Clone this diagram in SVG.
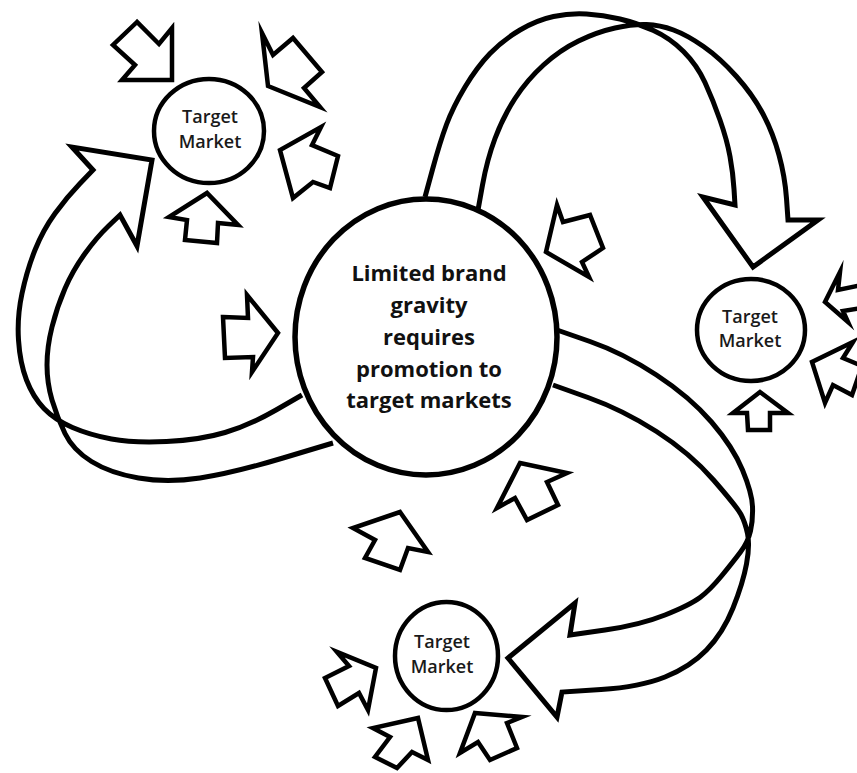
<svg xmlns="http://www.w3.org/2000/svg" width="857" height="773" viewBox="0 0 857 773">
  <style>
    .band { fill: none; stroke: #000; stroke-width: 5; stroke-linejoin: miter; stroke-miterlimit: 10; }
    .push { fill: #fff; stroke: #000; stroke-width: 4.5; stroke-linejoin: miter; stroke-miterlimit: 10; }
    .ring { fill: #fff; stroke: #000; stroke-width: 4.5; }
    .core { fill: #fff; stroke: #000; stroke-width: 5.5; }
    .lbl { font-family: "Open Sans", "Liberation Sans", sans-serif; font-weight: 600; font-size: 18px; fill: #1a1a1a; text-anchor: middle; }
    .main { font-family: "Open Sans", "Liberation Sans", sans-serif; font-weight: 700; font-size: 22px; fill: #111; text-anchor: middle; }
  </style>
  <rect width="857" height="773" fill="#fff"/>

  <!-- curved ribbon arrows from the centre to each market -->
  <g id="connectors">
    <path id="arc-left" class="band" d="M333,443 L283,458 Q233,473 200,478 Q167,483 138.5,478 Q110,473 91.5,461.5 Q73,450 65,433.5 Q57,417 52,400 Q47,383 47,365 Q47,347 52,327 Q57,307 65,288.5 Q73,270 85,253.5 Q97,237 108.5,226 L120,215 L137,246 L152,160 L72,147 L93,170 L80,183.5 Q67,197 55,213.5 Q43,230 35,250 Q27,270 22,293.5 Q17,317 18.5,340 Q20,363 26.5,380 Q33,397 44,408.5 Q55,420 72.5,427.5 Q90,435 111.5,439 Q133,443 166.5,441.5 Q200,440 225,432.5 Q250,425 276,410 L302,395"/>
    <path id="arc-top" class="band" d="M425,197 L432.5,169.5 Q440,142 446.5,124.5 Q453,107 465,87 Q477,67 490,53.5 Q503,40 520,30 Q537,20 553.5,16.5 Q570,13 586.5,14 Q603,15 620,19 Q637,23 653.5,30.5 Q670,38 683.5,51.5 Q697,65 705,82.5 Q713,100 720,120 Q727,140 730,156.5 Q733,173 734,189 L735,205 L703,197 L753,267 L818,220 L788,220 L786.5,198.5 Q785,177 779,155 Q773,133 763,114 Q753,95 736.5,76.5 Q720,58 703.5,46.5 Q687,35 673.5,30 Q660,25 646.5,24.5 Q633,24 615,28 Q597,32 578.5,41 Q560,50 543.5,65 Q527,80 515,98.5 Q503,117 495,138.5 Q487,160 482.5,185 L478,210"/>
    <path id="arc-right" class="band" d="M557,330 L590,341.5 Q623,353 656.5,375 Q690,397 711.5,422 Q733,447 742.5,470 Q752,493 752.5,506.5 Q753,520 750.5,531 Q748,542 740.5,552 Q733,562 721.5,576 Q710,590 700,597.5 Q690,605 665,615 Q640,625 605,630 L570,635 L575,603 L508,658 L557,717 L562,692 L601,689.5 Q640,687 665,677 Q690,667 706.5,650 Q723,633 733,608 Q743,583 746.5,564 Q750,545 747.5,533.5 Q745,522 741,514.5 Q737,507 713.5,480 Q690,453 656.5,431.5 Q623,410 588,397.5 L553,385"/>
  </g>

  <!-- central idea -->
  <g id="brand-gravity">
    <ellipse class="core" cx="426" cy="337" rx="131" ry="138"/>
    <text class="main" x="429" y="281">Limited brand</text>
    <text class="main" x="429" y="313">gravity</text>
    <text class="main" x="429" y="345">requires</text>
    <text class="main" x="429" y="377">promotion to</text>
    <text class="main" x="429" y="408">target markets</text>
  </g>

  <!-- pressures pushing toward the centre -->
  <g id="push-centre">
    <polygon class="push" points="223,317 248,318 247,295 278,333 252,372 253,357 225,358"/>
    <polygon class="push" points="557,205 563,222 590,215 603,248 582,262 589,277 546,252"/>
    <polygon class="push" points="520,463 567,473 547,482 558,505 527,520 515,498 497,508"/>
    <polygon class="push" points="400,512 428,552 408,548 400,570 365,558 375,540 353,528"/>
  </g>

  <!-- market: upper left -->
  <g id="market-upper-left">
    <ellipse class="ring" cx="209" cy="131" rx="55" ry="52"/>
    <text class="lbl" x="210" y="123">Target</text>
    <text class="lbl" x="210" y="148">Market</text>
    <polygon class="push" points="137,22 113,45 135,65 122,80 172,80 172,28 159,44"/>
    <polygon class="push" points="262,33 273,55 293,38 322,72 304,88 320,107 268,86"/>
    <polygon class="push" points="321,127 312,145 338,156 330,188 313,182 293,198 280,150"/>
    <polygon class="push" points="207,193 169,217 187,220 185,240 217,243 218,223 238,225"/>
  </g>

  <!-- market: right -->
  <g id="market-right">
    <ellipse class="ring" cx="751" cy="330" rx="54" ry="51"/>
    <text class="lbl" x="750" y="323">Target</text>
    <text class="lbl" x="750" y="347">Market</text>
    <polygon class="push" points="840,272 838,290 862,285 862,308 843,311 848,322 825,302"/>
    <polygon class="push" points="853,342 843,358 862,366 852,395 833,385 825,403 812,362"/>
    <polygon class="push" points="760,392 733,413 747,413 748,430 770,430 770,413 788,413"/>
  </g>

  <!-- market: bottom -->
  <g id="market-bottom">
    <ellipse class="ring" cx="446.5" cy="656" rx="51.5" ry="54"/>
    <text class="lbl" x="442" y="648">Target</text>
    <text class="lbl" x="442" y="673">Market</text>
    <polygon class="push" points="337,652 349,666 325,678 338,706 359,693 368,710 376,668"/>
    <polygon class="push" points="418,718 428,760 412,752 397,768 375,757 390,737 373,728"/>
    <polygon class="push" points="475,713 522,717 507,723 517,748 490,760 478,742 460,753"/>
  </g>
</svg>
